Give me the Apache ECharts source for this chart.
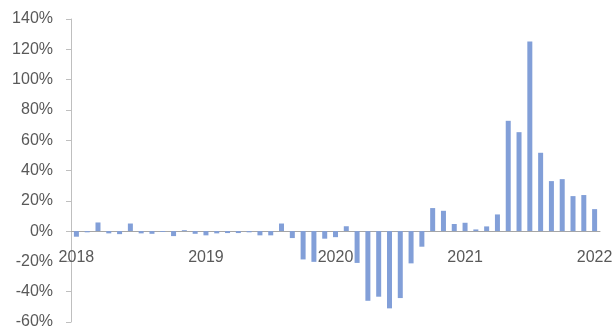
<!DOCTYPE html>
<html>
<head>
<meta charset="utf-8">
<script src="https://cdn.jsdelivr.net/npm/echarts@6/dist/echarts.min.js"></script>
<style>
  html, body { margin: 0; padding: 0; background: #fff; }
  #chart { width: 614px; height: 329px; }
</style>
</head>
<body>
<div id="chart"></div>
<script>
// Monthly year-on-year change, Jan 2018 – Jan 2022
const years = [2018, 2019, 2020, 2021];
const months = [];
years.forEach(function (y) {
  for (let m = 1; m <= 12; m++) months.push(y + '-' + (m < 10 ? '0' + m : m));
});
months.push('2022-01');

const changePct = [
  -3.7, -0.8, 5.7, -1.5, -2.0, 5.0, -1.5, -1.8, -0.6, -3.3, 0.6, -1.8,
  -2.8, -1.5, -1.3, -1.3, -0.8, -2.8, -2.8, 5.0, -4.6, -18.7, -20.3, -5.0,
  -4.0, 3.2, -21.0, -46.0, -43.3, -51.0, -44.2, -21.3, -10.3, 15.2, 13.4, 4.7,
  5.5, 1.1, 3.1, 11.0, 72.8, 65.3, 125.2, 51.7, 33.0, 34.3, 23.1, 23.8,
  14.5
];

const yTicks = { min: -60, max: 140, step: 20 };

const labelFont = {
  color: '#595959',
  fontFamily: 'Liberation Sans, Arial, sans-serif',
  fontSize: 16
};

const chart = echarts.init(document.getElementById('chart'), null, { renderer: 'canvas' });
chart.setOption({
  animation: false,
  backgroundColor: '#ffffff',
  grid: { left: 71, right: 14, top: 19, bottom: 7, containLabel: false, outerBoundsMode: 'none' },
  xAxis: {
    type: 'category',
    data: months,
    offset: 0,
    axisLine: { onZero: false, lineStyle: { color: '#a6a6a6', width: 1 } },
    axisTick: { show: false },
    axisLabel: Object.assign({
      interval: 0,
      margin: 18,
      formatter: function (v) { return v.slice(5) === '01' ? v.slice(0, 4) : ''; }
    }, labelFont),
    splitLine: { show: false }
  },
  yAxis: {
    type: 'value',
    min: yTicks.min,
    max: yTicks.max,
    interval: yTicks.step,
    axisLine: { show: true, lineStyle: { color: '#bfbfbf', width: 1 } },
    axisTick: { show: true, length: 5, lineStyle: { color: '#bfbfbf' } },
    axisLabel: Object.assign({ margin: 18, formatter: '{value}%' }, labelFont),
    splitLine: { show: false }
  },
  series: [{
    type: 'bar',
    data: changePct,
    barWidth: 5,
    itemStyle: { color: '#829fd8' }
  }]
});

// Carry the category axis (line and year labels) up to the 0% level
const zeroY = chart.convertToPixel({ yAxisIndex: 0 }, 0);
const bottomY = chart.convertToPixel({ yAxisIndex: 0 }, yTicks.min);
chart.setOption({ xAxis: { offset: zeroY - bottomY } });
</script>
</body>
</html>
